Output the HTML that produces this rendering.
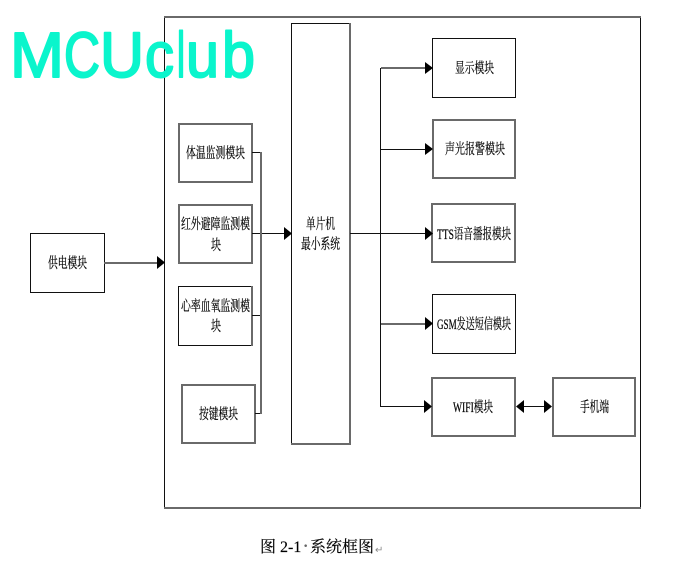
<!DOCTYPE html>
<html>
<head>
<meta charset="utf-8">
<style>
html,body{margin:0;padding:0;background:#fff}
svg{display:block}
.b{fill:#fff;stroke:#111;stroke-width:1}
.g{fill:#fff;stroke:#6a6a6a;stroke-width:2}
.l{fill:none;stroke:#111;stroke-width:1}
.h{fill:none;stroke:#6a6a6a;stroke-width:2}
.t{font-family:"Liberation Serif","Noto Serif CJK SC",serif;font-size:14.5px;fill:#000;stroke:#000;stroke-width:.2}
.m{font-family:"Liberation Sans",sans-serif;font-size:64px;fill:#0af5cc;stroke:#0af5cc;stroke-width:2;stroke-linejoin:round}
</style>
</head>
<body>
<svg width="685" height="582" viewBox="0 0 685 582" xmlns="http://www.w3.org/2000/svg">
<rect width="685" height="582" fill="#fff"/>
<g shape-rendering="crispEdges">
<rect class="b" x="164.5" y="16.5" width="476" height="491"/>
<path class="h" d="M164 17H641M164 508H641"/>
<rect class="b" x="30.5" y="233.5" width="74" height="59"/>
<rect class="g" x="179" y="124" width="73" height="58"/>
<rect class="g" x="179" y="205" width="73" height="58"/>
<rect class="b" x="178.5" y="286.5" width="74" height="59"/>
<path class="h" d="M252 286V346"/>
<rect class="g" x="182" y="385" width="73" height="58"/>
<rect class="b" x="291.5" y="23.5" width="58" height="420"/>
<path class="h" d="M350 23V444M291 444H351"/>
<rect class="b" x="432.5" y="38.5" width="83" height="59"/>
<rect class="g" x="433" y="120" width="82" height="58"/>
<rect class="g" x="432" y="204" width="83" height="58"/>
<rect class="b" x="432.5" y="294.5" width="83" height="59"/>
<rect class="g" x="432" y="378" width="83" height="58"/>
<rect class="g" x="553" y="378" width="82" height="58"/>
<path class="l" d="M252 152.5H260M252 233.5H285M252 315.5H260M255 413.5H260"/>
<path class="h" d="M261 152V414M104 263H158"/>
<path class="l" d="M350 233.5H426M380.5 68V406.5H426M380.5 149.5H426M522 406.5H546"/>
<path class="h" d="M381 68H426M381 324H426"/>
</g>
<g fill="#000">
<path d="M284 227L292 233.5L284 240Z"/>
<path d="M157 256L165 262.5L157 269Z"/>
<path d="M425 62L433 68L425 74Z"/>
<path d="M425 143L433 149L425 155Z"/>
<path d="M425 227L433 233.5L425 240Z"/>
<path d="M425 317L433 323.5L425 330Z"/>
<path d="M424 400L432 406.5L424 413Z"/>
<path d="M524 400L516 406.5L524 413Z"/>
<path d="M544 400L552 406.5L544 413Z"/>
</g>
<text class="m" x="10" y="77" textLength="54" lengthAdjust="spacingAndGlyphs">M</text>
<text class="m" x="64" y="77" textLength="36" lengthAdjust="spacingAndGlyphs">C</text>
<text class="m" x="100" y="77" textLength="44" lengthAdjust="spacingAndGlyphs">U</text>
<text class="m" x="145" y="77" textLength="29" lengthAdjust="spacingAndGlyphs">c</text>
<text class="m" x="177" y="77" textLength="8" lengthAdjust="spacingAndGlyphs">l</text>
<text class="m" x="186" y="77" textLength="33" lengthAdjust="spacingAndGlyphs">u</text>
<text class="m" x="222" y="77" textLength="33" lengthAdjust="spacingAndGlyphs">b</text>
<text class="t" x="48" y="268" textLength="39" lengthAdjust="spacingAndGlyphs">供电模块</text>
<text class="t" x="186" y="158" textLength="59" lengthAdjust="spacingAndGlyphs">体温监测模块</text>
<text class="t" x="181" y="229" textLength="69" lengthAdjust="spacingAndGlyphs">红外避障监测模</text>
<text class="t" x="211" y="250" textLength="10" lengthAdjust="spacingAndGlyphs">块</text>
<text class="t" x="181" y="311" textLength="69" lengthAdjust="spacingAndGlyphs">心率血氧监测模</text>
<text class="t" x="211" y="331" textLength="10" lengthAdjust="spacingAndGlyphs">块</text>
<text class="t" x="199" y="419" textLength="39" lengthAdjust="spacingAndGlyphs">按键模块</text>
<text class="t" x="306" y="229" textLength="29" lengthAdjust="spacingAndGlyphs">单片机</text>
<text class="t" x="301" y="249" textLength="39" lengthAdjust="spacingAndGlyphs">最小系统</text>
<text class="t" x="455" y="73" textLength="39" lengthAdjust="spacingAndGlyphs">显示模块</text>
<text class="t" x="445" y="154" textLength="60" lengthAdjust="spacingAndGlyphs">声光报警模块</text>
<text class="t" x="437" y="239" textLength="74" lengthAdjust="spacingAndGlyphs">TTS语音播报模块</text>
<text class="t" x="437" y="329" textLength="74" lengthAdjust="spacingAndGlyphs">GSM发送短信模块</text>
<text class="t" x="453" y="412" textLength="40" lengthAdjust="spacingAndGlyphs">WIFI模块</text>
<text class="t" x="580" y="412" textLength="29" lengthAdjust="spacingAndGlyphs">手机端</text>
<g font-family="'Liberation Serif','Noto Serif CJK SC',serif" font-size="16" fill="#000" stroke="#000" stroke-width=".15">
<text x="260" y="552">图</text>
<text x="280" y="552">2-1</text>
<text x="310" y="552" textLength="64" lengthAdjust="spacingAndGlyphs">系统框图</text>
</g>
<text x="303" y="551" font-family="'Liberation Serif',serif" font-size="16" font-weight="bold" fill="#666">·</text>
<text x="375" y="553" font-family="'DejaVu Sans',sans-serif" font-size="10" fill="#888">↵</text>
</svg>
</body>
</html>
